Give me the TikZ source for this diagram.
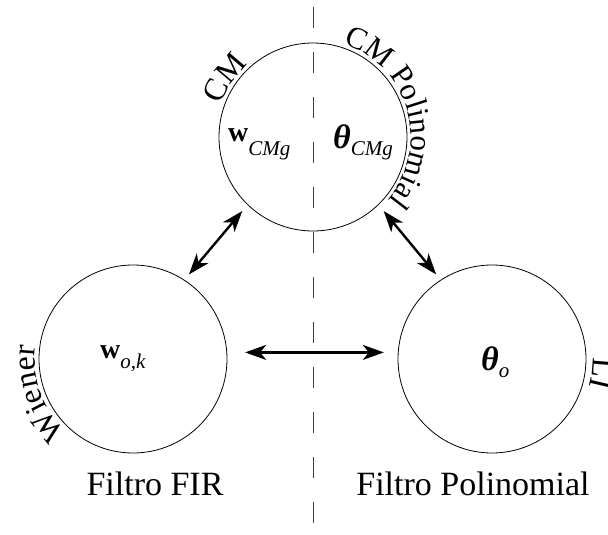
\documentclass[tikz,border=0pt]{standalone}
\usepackage{fontspec}
\setmainfont{Liberation Serif}
\usetikzlibrary{arrows.meta,decorations.text}
\newcommand\cirfont{\fontsize{32}{36}\selectfont}
\newcommand\cirfontb{\fontsize{31}{36}\selectfont}
\newcommand\botfont{\fontsize{34}{40}\selectfont}
\newcommand\wfont{\fontsize{28}{34}\selectfont\bfseries}
\newcommand\thfont{\fontsize{34}{40}\selectfont\bfseries\itshape}
\newcommand\subfont{\fontsize{21}{24}\selectfont\itshape}
\newcommand\symb[3]{{#1}\raisebox{-#2}{\subfont #3}}
\tikzset{
  bubble/.style={circle, draw, line width=0.8pt, minimum size=188pt, inner sep=0pt},
  dbl/.style={{Stealth[length=21pt,width=15pt,inset=6pt]}-{Stealth[length=21pt,width=15pt,inset=6pt]}, line width=2.4pt},
  divider/.style={draw=black!75, line width=0.9pt, dash pattern=on 21pt off 24pt, dash phase=38pt},
  arclabel/.style={decorate, decoration={text along path, text align=center}},
  lab/.style={inner sep=0pt, anchor=base},
}
\begin{document}
\begin{tikzpicture}[x=1pt,y=1pt]
\useasboundingbox (0,0) rectangle (608,-535);
\coordinate (dtop) at (313,0);
\coordinate (dbot) at (313,-535);
\draw[divider] (dtop) -- (dbot);

\node[bubble] (top) at (313,-137) {};
\node[bubble] (left) at (133,-359) {};
\node[bubble] (right) at (492,-359) {};

\node[lab, anchor=base west] (wcmg) at (228,-141) {\symb{\wfont w}{14pt}{CMg}};
\node[lab, anchor=base west] (tcmg) at (333,-148) {\symb{\thfont θ}{7pt}{CMg}};
\node[lab, anchor=base west] (wok) at (100,-358) {\symb{\wfont w}{10pt}{o,k}};
\node[lab, anchor=base west] (to) at (481,-370) {\symb{\thfont θ}{7pt}{o}};

\path[arclabel, decoration={text={|\cirfont|CM}}]
  (top) ++(170:97) arc[start angle=170, end angle=122, radius=97];
\path[arclabel, decoration={text={|\cirfontb|CM Polinomial}}]
  (top) ++(84:98) arc[start angle=84, end angle=-52, radius=98];
\path[arclabel, decoration={text={|\cirfont|Wiener}}]
  (left) ++(231:98) arc[start angle=231, end angle=169, radius=98];
\path[decorate, decoration={text along path, text={|\cirfont|LI}}]
  (right) ++(1:101) arc[start angle=1, end angle=-40, radius=101];

\draw[dbl, shorten <=8pt, shorten >=7pt] (top.226) -- (left.57);
\draw[dbl, shorten <=8pt, shorten >=7pt] (top.314) -- (right.123);
\draw[dbl, shorten <=18pt, shorten >=14pt] (left.4) -- (right.176);

\node[lab] (fir) at (155,-495) {\botfont Filtro FIR};
\node[lab] (pol) at (473,-495) {\botfont Filtro Polinomial};
\end{tikzpicture}
\end{document}
